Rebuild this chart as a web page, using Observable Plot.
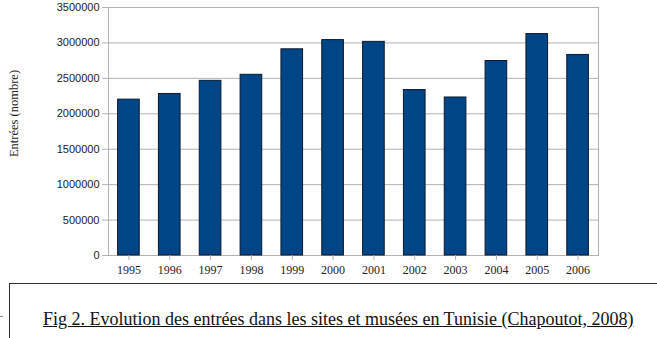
<!DOCTYPE html>
<html>
<head>
<meta charset="utf-8">
<script src="https://cdn.jsdelivr.net/npm/d3@7"></script>
<script src="https://cdn.jsdelivr.net/npm/@observablehq/plot@0.6"></script>
<style>
  html, body { margin: 0; padding: 0; background: #fff; width: 657px; height: 338px; overflow: hidden; }
  #wrap { position: relative; width: 657px; height: 338px; }
  #chart svg { display: block; }
  #caption {
    position: absolute; left: 9px; top: 283px; right: -5px; bottom: -5px;
    border-top: 1px solid #333; border-left: 1px solid #333;
    font-family: "Liberation Serif", "Times New Roman", serif;
    font-size: 18px; color: #111;
  }
  #caption span { position: absolute; left: 33px; top: 25px; text-decoration: underline; white-space: nowrap; }
  #dash { position: absolute; left: 0; top: 316px; width: 3px; height: 1px; background: #888; }
</style>
</head>
<body>
<div id="wrap">
  <div id="chart"></div>
  <div id="dash"></div>
  <div id="caption"><span>Fig 2. Evolution des entrées dans les sites et musées en Tunisie (Chapoutot, 2008)</span></div>
</div>
<script>
// Entrées annuelles dans les sites et musées
const years = ["1995", "1996", "1997", "1998", "1999", "2000", "2001", "2002", "2003", "2004", "2005", "2006"];
const entries = [2200000, 2280000, 2465000, 2550000, 2910000, 3040000, 3015000, 2335000, 2230000, 2745000, 3125000, 2830000];
const yTicks = [0, 500000, 1000000, 1500000, 2000000, 2500000, 3000000, 3500000];
const yLabel = "Entrées (nombre)";

const data = years.map((year, i) => ({year, value: entries[i]}));

const chart = Plot.plot({
  width: 657,
  height: 283,
  marginLeft: 108,
  marginRight: 59,
  marginTop: 7,
  marginBottom: 28,
  x: {type: "band", domain: years, paddingInner: 0.47, paddingOuter: 0.235, round: false},
  y: {domain: [0, 3500000]},
  marks: [
    Plot.gridY(yTicks, {stroke: "#b3b3b3", strokeOpacity: 1, strokeWidth: 1}),
    Plot.frame({stroke: "#b3b3b3", strokeWidth: 1}),
    Plot.barY(data, {x: "year", y: "value", fill: "#004586", stroke: "#0d1a2a", strokeWidth: 1}),
    Plot.axisY(yTicks, {
      tickSize: 6, tickPadding: 3, stroke: "#b3b3b3",
      tickFormat: d3.format("d"), label: null,
      fontFamily: "Liberation Sans, Arial, sans-serif", fontSize: 11,
      fill: "#222", style: {letterSpacing: "0.7px"}
    }),
    Plot.axisX({
      tickSize: 5, tickPadding: 5, stroke: "#b3b3b3", label: null,
      fontFamily: "Liberation Serif, Times New Roman, serif", fontSize: 12,
      fill: "#222", style: {letterSpacing: "0.3px"}
    }),
    Plot.text([yLabel], {
      frameAnchor: "left", textAnchor: "middle", rotate: -90, dx: -95, dy: -18,
      fontFamily: "Liberation Serif, Times New Roman, serif", fontSize: 12.5, fill: "#222"
    })
  ]
});

document.getElementById("chart").appendChild(chart);
</script>
</body>
</html>
